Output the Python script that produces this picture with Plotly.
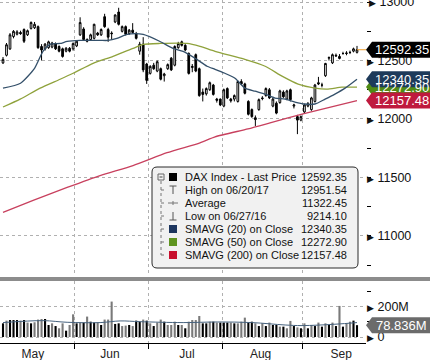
import pandas as pd
import plotly.graph_objects as go

# ---------------- data ----------------
trade_dates = pd.bdate_range("2017-05-03", "2017-09-22")
trade_dates = trade_dates[trade_dates != pd.Timestamp("2017-06-05")]

opens = [12480, 12545, 12600, 12705, 12725, 12740, 12765, 12720, 12775, 12780,
         12790, 12620, 12600, 12610, 12615, 12645, 12620, 12600, 12580, 12605,
         12600, 12625, 12720, 12770, 12680, 12680, 12690, 12735, 12720, 12875,
         12765, 12735, 12830, 12915, 12750, 12790, 12730, 12760, 12730, 12580,
         12640, 12470, 12390, 12460, 12410, 12430, 12370, 12430, 12520, 12460,
         12610, 12660, 12630, 12560, 12440, 12550, 12430, 12230, 12215, 12250,
         12290, 12170, 12170, 12110, 12260, 12170, 12170, 12150, 12320, 12300,
         12150, 12080, 12010, 12080, 12180, 12200, 12250, 12110, 12135, 12140,
         12230, 12170, 12250, 12110, 12020, 11990, 12060, 12110, 12080, 12150,
         12310, 12290, 12370, 12520, 12480, 12545, 12535, 12560, 12565, 12570,
         12580, 12570]
highs = [12530, 12650, 12735, 12760, 12760, 12755, 12775, 12765, 12835, 12830,
         12800, 12640, 12650, 12670, 12660, 12655, 12630, 12610, 12615, 12615,
         12655, 12675, 12870, 12785, 12690, 12730, 12815, 12745, 12775, 12900,
         12780, 12750, 12895, 12951.54, 12800, 12800, 12770, 12820, 12745, 12660,
         12700, 12480, 12460, 12480, 12500, 12440, 12395, 12475, 12530, 12630,
         12660, 12670, 12640, 12570, 12470, 12560, 12440, 12260, 12270, 12320,
         12300, 12180, 12175, 12260, 12270, 12180, 12210, 12330, 12340, 12310,
         12160, 12090, 12030, 12175, 12195, 12270, 12265, 12180, 12150, 12250,
         12245, 12250, 12260, 12130, 12035, 12030, 12130, 12145, 12190, 12300,
         12360, 12310, 12480, 12535, 12560, 12560, 12555, 12575, 12580, 12585,
         12610, 12625]
lows = [12470, 12535, 12590, 12690, 12715, 12720, 12650, 12710, 12765, 12770,
        12600, 12500, 12585, 12600, 12605, 12590, 12570, 12525, 12570, 12570,
        12585, 12615, 12710, 12670, 12655, 12670, 12680, 12710, 12710, 12780,
        12660, 12680, 12820, 12800, 12740, 12715, 12720, 12730, 12680, 12550,
        12400, 12300, 12380, 12420, 12400, 12330, 12320, 12420, 12410, 12450,
        12600, 12620, 12580, 12380, 12400, 12400, 12190, 12150, 12200, 12240,
        12200, 12140, 12110, 12100, 12170, 12140, 12150, 12140, 12290, 12210,
        12030, 12010, 11940, 12070, 12160, 12190, 12170, 12100, 12040, 12130,
        12180, 12160, 12150, 12090, 11870, 11980, 12050, 12100, 12070, 12140,
        12290, 12270, 12360, 12500, 12470, 12530, 12510, 12550, 12545, 12555,
        12570, 12560]
closes = [12510, 12635, 12720, 12750, 12745, 12730, 12665, 12755, 12825, 12810,
          12610, 12590, 12640, 12660, 12650, 12600, 12580, 12535, 12605, 12580,
          12645, 12665, 12825, 12680, 12665, 12720, 12810, 12720, 12765, 12790,
          12700, 12730, 12890, 12810, 12790, 12725, 12760, 12740, 12690, 12640,
          12420, 12330, 12450, 12430, 12490, 12340, 12385, 12465, 12420, 12620,
          12645, 12630, 12590, 12390, 12450, 12410, 12200, 12210, 12260, 12310,
          12210, 12160, 12120, 12250, 12180, 12155, 12200, 12320, 12300, 12220,
          12040, 12020, 11995, 12165, 12175, 12260, 12180, 12170, 12050, 12240,
          12190, 12240, 12165, 12120, 11990, 12020, 12120, 12130, 12180, 12290,
          12300, 12290, 12475, 12525, 12550, 12540, 12518, 12560, 12561, 12569,
          12600, 12592.35]

volume_m = [91, 109, 113, 113, 113, 109, 113, 96, 91, 98, 116, 120, 120, 80, 91,
            73, 58, 91, 42, 80, 151, 91, 96, 96, 136, 102, 96, 96, 80, 116, 116,
            236, 87, 91, 73, 76, 80, 73, 109, 102, 116, 109, 91, 73, 96, 116, 102,
            80, 80, 102, 80, 80, 58, 102, 113, 113, 140, 91, 91, 102, 102, 96, 96,
            96, 96, 96, 91, 91, 102, 129, 96, 102, 91, 73, 91, 73, 96, 80, 80, 69,
            69, 58, 107, 73, 64, 58, 91, 58, 80, 73, 96, 69, 91, 80, 96, 73, 207,
            69, 91, 102, 109, 78.836]
volume_dark = [1, 0, 1, 1, 1, 0, 1, 0, 1, 0, 0, 0, 1, 1, 0, 1, 0, 0, 1, 0, 0, 1,
               0, 1, 0, 1, 1, 0, 1, 0, 0, 0, 1, 1, 0, 0, 1, 0, 1, 1, 0, 1, 0, 1,
               0, 0, 1, 0, 0, 0, 1, 0, 1, 0, 0, 0, 0, 1, 1, 0, 1, 0, 1, 1, 1, 0,
               1, 0, 0, 0, 1, 1, 0, 1, 0, 1, 0, 1, 1, 0, 1, 0, 0, 1, 0, 1, 0, 1,
               0, 1, 0, 1, 0, 1, 0, 1, 0, 1, 0, 0, 1, 1]

sma20_pos = [0, 5, 9, 11.4, 13.4, 16.3, 18.3, 22, 27.7, 30, 32.5, 35.4, 37.7, 40,
             44.8, 48.5, 51.4, 55.3, 58.2, 60.5, 63.3, 66.2, 69, 71.9, 74.8, 77.6,
             80.5, 83.3, 86, 89, 91.9, 94.7, 97.6, 101]
sma20_val = [12263, 12306, 12433, 12578, 12638, 12646, 12663, 12672, 12672, 12672,
             12689, 12723, 12731, 12723, 12663, 12604, 12578, 12510, 12451, 12425,
             12391, 12349, 12264, 12238, 12213, 12179, 12170, 12145, 12128, 12128,
             12170, 12213, 12264, 12340.35]
sma50_pos = [0, 4.9, 10.6, 16.3, 20, 25.7, 31.4, 37.1, 40, 44.8, 52.5, 56.2, 60.5,
             69, 74.8, 79.6, 84.2, 89, 92.4, 96.7, 101]
sma50_val = [12102, 12170, 12264, 12340, 12391, 12476, 12536, 12604, 12638, 12646,
             12646, 12621, 12578, 12510, 12451, 12366, 12298, 12264, 12255, 12272,
             12272.90]
sma200_pos = [0, 8.6, 18.3, 27.7, 37.1, 46.8, 56.2, 60.5, 69.9, 76.2, 85.6, 101]
sma200_val = [11201, 11303, 11414, 11516, 11601, 11711, 11796, 11847, 11915, 11966,
              12043, 12157.48]
vol_ma_pos = [0, 11.4, 18.3, 27.7, 33.4, 39.1, 51.4, 61.3, 71, 80.5, 85.3, 94.7, 101]
vol_ma_m = [96, 109, 98, 96, 107, 102, 96, 100, 96, 80, 76, 85, 96]

month_names = ["May", "Jun", "Jul", "Aug", "Sep"]
price_ticks = [11000, 11500, 12000, 12500, 13000]
volume_ticks_m = [0, 200]

legend_labels = ["DAX Index - Last Price", "High on 06/20/17", "Average",
                 "Low on 06/27/16", "SMAVG (20) on Close", "SMAVG (50) on Close",
                 "SMAVG (200) on Close"]
legend_values = [12592.35, 12951.54, 11322.45, 9214.10, 12340.35, 12272.90, 12157.48]

# ---------------- geometry helpers ----------------
FONT = "Liberation Sans"
W, H = 430, 360
PW, PH = 366, 343           # plot area in px
N = len(closes)
idx = list(range(N))
px_per_bar = 354 / (N - 1)
x_r0 = -3 / px_per_bar
x_r1 = x_r0 + PW / px_per_bar

P_RANGE = [10656, 13018]
V_RANGE = [-40e6, 373e6]
P_DOM = [(343 - 276) / 343, 1.0]
V_DOM = [0.0, (343 - 281) / 343]


def xp(px):
    return px / PW


def ypx(py):
    return (PH - py) / PH


def price_paper(v):
    return P_DOM[0] + (v - P_RANGE[0]) / (P_RANGE[1] - P_RANGE[0]) * (P_DOM[1] - P_DOM[0])


def vol_paper(v):
    return V_DOM[0] + (v - V_RANGE[0]) / (V_RANGE[1] - V_RANGE[0]) * (V_DOM[1] - V_DOM[0])


# month boundaries / label positions from the dates
month_keys = [(d.year, d.month) for d in trade_dates]
boundaries, label_pos = [], []
for i in range(1, N):
    if month_keys[i] != month_keys[i - 1]:
        boundaries.append(i - 0.5)
for (yy, mm) in sorted(set(month_keys)):
    k = trade_dates.searchsorted(pd.Timestamp(yy, mm, 15))
    label_pos.append(k + 0.5)

fig = go.Figure()

fig.add_trace(go.Candlestick(
    x=idx, open=opens, high=highs, low=lows, close=closes,
    increasing=dict(line=dict(color="#000000", width=1), fillcolor="#ffffff"),
    decreasing=dict(line=dict(color="#000000", width=1), fillcolor="#000000"),
    whiskerwidth=0, xaxis="x", yaxis="y", hoverinfo="skip"))

fig.add_trace(go.Scatter(x=sma200_pos, y=sma200_val, mode="lines",
                         line=dict(color="#c8405e", width=1.3, shape="spline", smoothing=0.6),
                         xaxis="x", yaxis="y", hoverinfo="skip"))
fig.add_trace(go.Scatter(x=sma50_pos, y=sma50_val, mode="lines",
                         line=dict(color="#8fa23c", width=1.3, shape="spline", smoothing=0.6),
                         xaxis="x", yaxis="y", hoverinfo="skip"))
fig.add_trace(go.Scatter(x=sma20_pos, y=sma20_val, mode="lines",
                         line=dict(color="#34506a", width=1.3, shape="spline", smoothing=0.6),
                         xaxis="x", yaxis="y", hoverinfo="skip"))

volumes = [v * 1e6 for v in volume_m]
fig.add_trace(go.Bar(x=idx, y=volumes, width=0.6,
                     marker=dict(color=["#000000" if d else "#7a7a7a" for d in volume_dark],
                                 line=dict(width=0)),
                     xaxis="x", yaxis="y2", hoverinfo="skip"))
fig.add_trace(go.Scatter(x=vol_ma_pos, y=[v * 1e6 for v in vol_ma_m], mode="lines",
                         line=dict(color="#46627e", width=1, shape="spline"),
                         xaxis="x", yaxis="y2", hoverinfo="skip"))

arrow = "<span style='font-size:9px'>\u25B6</span> "
fig.update_layout(
    width=W, height=H, margin=dict(l=0, r=W - PW, t=0, b=H - PH),
    paper_bgcolor="white", plot_bgcolor="white", showlegend=False,
    font=dict(family=FONT, color="#111111"),
    xaxis=dict(domain=[0, 1], range=[x_r0, x_r1], anchor="y2",
               tickmode="array", tickvals=label_pos, ticktext=month_names,
               ticks="", showgrid=False, zeroline=False,
               showline=True, linecolor="#000000", linewidth=1,
               tickfont=dict(size=12, color="#222222", family=FONT),
               rangeslider=dict(visible=False),
               minor=dict(tickmode="array", tickvals=boundaries, showgrid=True,
                          gridcolor="#b0b0b0", griddash="dot", gridwidth=1,
                          ticks="outside", ticklen=5, tickcolor="#000000")),
    yaxis=dict(domain=P_DOM, range=P_RANGE, side="right", anchor="x",
               tickmode="array", tickvals=price_ticks,
               ticktext=[arrow + str(t) for t in price_ticks],
               ticks="", showgrid=True, gridcolor="#b0b0b0", griddash="dot",
               zeroline=False, showline=False,
               tickfont=dict(size=12.5, color="#111111", family=FONT),
               minor=dict(dtick=250, tick0=0, ticks="outside", ticklen=4,
                          tickcolor="#000000", showgrid=False)),
    yaxis2=dict(domain=V_DOM, range=V_RANGE, side="right", anchor="x",
                tickmode="array", tickvals=[t * 1e6 for t in volume_ticks_m],
                ticktext=[arrow + (f"{t}M" if t else "0") for t in volume_ticks_m],
                ticks="", showgrid=True, gridcolor="#b0b0b0", griddash="dot",
                zeroline=False, showline=False,
                tickfont=dict(size=12.5, color="#111111", family=FONT),
                minor=dict(tickmode="array", tickvals=[100e6, 300e6], ticks="outside",
                           ticklen=4, tickcolor="#000000", showgrid=False)),
)

shapes = []
annots = []

# top tick label (plotly drops it at the very edge of the figure)
annots.append(dict(xref="paper", yref="paper", x=1.0 + 1 / PW,
                   y=price_paper(price_ticks[-1]), text=arrow + str(price_ticks[-1]),
                   showarrow=False, xanchor="left", yanchor="middle",
                   font=dict(size=12.5, color="#111111", family=FONT)))

# panel separator
shapes.append(dict(type="rect", xref="paper", yref="paper", x0=0, x1=W / PW,
                   y0=ypx(281), y1=ypx(277), fillcolor="#8c8c8c", line=dict(width=0),
                   layer="above"))

# last price line (orange)
shapes.append(dict(type="line", xref="x", yref="y", x0=N - 1, x1=x_r1,
                   y0=closes[-1], y1=closes[-1], line=dict(color="#f0a030", width=1)))


def tag(yc, color, text, fsize=13):
    h = 8 / PH
    x0 = 1.0
    xb = 1.0 + 6 / PW
    xe = (W + 2) / PW
    path = (f"M {x0},{yc} L {xb},{yc + h} L {xe},{yc + h} L {xe},{yc - h} "
            f"L {xb},{yc - h} Z")
    shapes.append(dict(type="path", xref="paper", yref="paper", path=path,
                       fillcolor=color, line=dict(width=0), layer="above"))
    annots.append(dict(xref="paper", yref="paper", x=(372 + 431) / 2 / PW, y=yc,
                       text=text, showarrow=False, xanchor="center", yanchor="middle",
                       font=dict(size=fsize, color="white", family=FONT)))


sma20_last, sma50_last, sma200_last = sma20_val[-1], sma50_val[-1], sma200_val[-1]
tag(price_paper(sma50_last), "#4f8a14", f"{sma50_last:.2f}")
tag(price_paper(sma20_last), "#1d3a5a", f"{sma20_last:.2f}")
tag(price_paper(sma200_last), "#bf1a3e", f"{sma200_last:.2f}")
tag(price_paper(closes[-1]), "#000000", f"{closes[-1]:.2f}")
tag(vol_paper(volumes[-1]), "#6b6b6b", f"{volume_m[-1]:.3f}M")

# legend box
bx0, bx1, by0, by1, r = 152, 358, 167, 268, 5
box = (f"M {xp(bx0 + r)},{ypx(by0)} L {xp(bx1 - r)},{ypx(by0)} "
       f"Q {xp(bx1)},{ypx(by0)} {xp(bx1)},{ypx(by0 + r)} L {xp(bx1)},{ypx(by1 - r)} "
       f"Q {xp(bx1)},{ypx(by1)} {xp(bx1 - r)},{ypx(by1)} L {xp(bx0 + r)},{ypx(by1)} "
       f"Q {xp(bx0)},{ypx(by1)} {xp(bx0)},{ypx(by1 - r)} L {xp(bx0)},{ypx(by0 + r)} "
       f"Q {xp(bx0)},{ypx(by0)} {xp(bx0 + r)},{ypx(by0)} Z")
shapes.append(dict(type="path", xref="paper", yref="paper", path=box,
                   fillcolor="#f1f1f1", line=dict(color="#2a2a2a", width=1), layer="above"))

rows = [177, 190, 203, 216, 229, 242, 255]
gray = "#555555"


def pline(x0, y0, x1, y1, color=gray, dash="solid", w=1):
    shapes.append(dict(type="line", xref="paper", yref="paper", x0=xp(x0), y0=ypx(y0),
                       x1=xp(x1), y1=ypx(y1), line=dict(color=color, width=w, dash=dash),
                       layer="above"))


# tree decoration
pline(161, 181, 161, rows[-1], color="#777777", dash="dot")
for ry in rows[1:]:
    pline(161, ry, 166, ry, color="#777777", dash="dot")
shapes.append(dict(type="rect", xref="paper", yref="paper", x0=xp(158), x1=xp(164),
                   y0=ypx(180), y1=ypx(174), fillcolor="#f1f1f1",
                   line=dict(color="#666666", width=1), layer="above"))
pline(159.5, 177, 162.5, 177, color="#444444")

square_colors = ["#000000", None, None, None, "#1c355e", "#5f9420", "#c8102e"]
for ry, col in zip(rows, square_colors):
    if col:
        shapes.append(dict(type="rect", xref="paper", yref="paper", x0=xp(169), x1=xp(177),
                           y0=ypx(ry + 4), y1=ypx(ry - 4), fillcolor=col,
                           line=dict(width=0), layer="above"))
# high "T"
pline(169.5, rows[1] - 4, 176.5, rows[1] - 4)
pline(173, rows[1] - 4, 173, rows[1] + 4)
# average "-+-"
pline(168, rows[2], 178, rows[2], color="#777777")
pline(173, rows[2] - 2, 173, rows[2] + 2, color="#777777")
# low "⊥"
pline(173, rows[3] - 4, 173, rows[3] + 4)
pline(169.5, rows[3] + 4, 176.5, rows[3] + 4)

for ry, lab, val in zip(rows, legend_labels, legend_values):
    annots.append(dict(xref="paper", yref="paper", x=xp(183), y=ypx(ry), text=lab,
                       showarrow=False, xanchor="left", yanchor="middle",
                       font=dict(size=11, color="#111111", family=FONT)))
    annots.append(dict(xref="paper", yref="paper", x=xp(349), y=ypx(ry), text=f"{val:.2f}",
                       showarrow=False, xanchor="right", yanchor="middle",
                       font=dict(size=11, color="#111111", family=FONT)))

fig.update_layout(shapes=shapes, annotations=annots)
fig.write_html("out.html", config={"displayModeBar": False, "staticPlot": True},
               post_script="document.body.style.margin='0';document.body.style.overflow='hidden';")
